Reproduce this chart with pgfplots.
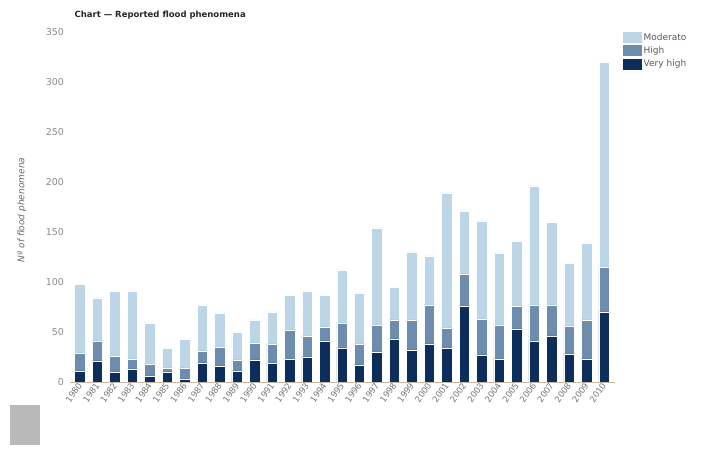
\documentclass[border=0pt]{standalone}
\usepackage{pgfplots}
\pgfplotsset{compat=1.18}
\usepackage{pgfplotstable}
\usepackage{fontspec}
\setmainfont{DejaVu Sans}
\definecolor{vhigh}{HTML}{0D2D5C}
\definecolor{high}{HTML}{6E8CAD}
\definecolor{moder}{HTML}{BCD6E8}
\definecolor{ticktxt}{HTML}{8A8A8A}
\definecolor{axline}{HTML}{C4B9A4}
\pgfplotstableread{
year vh hi mo
1980 11 18 69
1981 21 20 43
1982 10 16 65
1983 13 10 68
1984 6 12 41
1985 10 4 20
1986 3 11 29
1987 19 12 46
1988 16 19 34
1989 11 11 28
1990 22 17 23
1991 19 19 32
1992 23 29 35
1993 25 21 45
1994 41 14 32
1995 34 25 53
1996 17 21 51
1997 30 27 97
1998 43 19 33
1999 32 30 68
2000 38 39 49
2001 34 20 135
2002 76 32 63
2003 27 36 98
2004 23 34 72
2005 53 23 65
2006 41 36 119
2007 46 31 83
2008 28 28 63
2009 23 39 77
2010 70 45 205
}\flooddata
\begin{document}
\begin{tikzpicture}
\path[use as bounding box] (0,0) rectangle (702pt,452pt);
\begin{axis}[
  at={(69.5pt,70pt)}, anchor=south west,
  scale only axis, width=545pt, height=350pt,
  ymin=0, ymax=350, xmin=1979.4, xmax=2010.6,
  ybar stacked, bar width=10.5pt,
  axis x line*=bottom, axis y line*=left,
  x axis line style={draw=axline, line width=0.8pt},
  y axis line style={draw=none},
  major tick length=0pt,
  ytick={0,50,...,350},
  xtick=data,
  /pgf/number format/assume math mode=true,
  xticklabel style={/pgf/number format/1000 sep={}, rotate=55, anchor=east, font=\fontsize{8.5}{10}\selectfont, text=ticktxt!85!black, xshift=2pt, yshift=-1pt},
  yticklabel style={font=\fontsize{9.5}{11}\selectfont, text=ticktxt, xshift=-2pt},
  every axis plot/.append style={draw=white, line width=0.5pt},
  reverse legend,
  legend style={at={(rel axis cs:1,1)}, anchor=north west, xshift=7pt, yshift=2pt, draw=none, fill=none, font=\fontsize{9}{10}\selectfont, text=black!65, row sep=1pt, inner sep=1pt},
  legend cell align=left,
  legend image code/.code={\fill[#1, draw=none] (0pt,-5.5pt) rectangle (19pt,5.5pt);},
]
\addplot[fill=vhigh] table[x=year, y=vh] {\flooddata};
\addlegendentry{Very high}
\addplot[fill=high] table[x=year, y=hi] {\flooddata};
\addlegendentry{High}
\addplot[fill=moder] table[x=year, y=mo] {\flooddata};
\addlegendentry{Moderato}
\end{axis}
\node[anchor=west, font=\bfseries\fontsize{8.5}{10}\selectfont, text=black!85] at (71pt,437pt) {Chart — Reported flood phenomena};
\node[rotate=90, font=\itshape\fontsize{9}{10}\selectfont, text=black!60] at (22pt,242pt) {Nº of flood phenomena};
\fill[gray!55] (10pt,7pt) rectangle (40pt,47pt);
\end{tikzpicture}
\end{document}
